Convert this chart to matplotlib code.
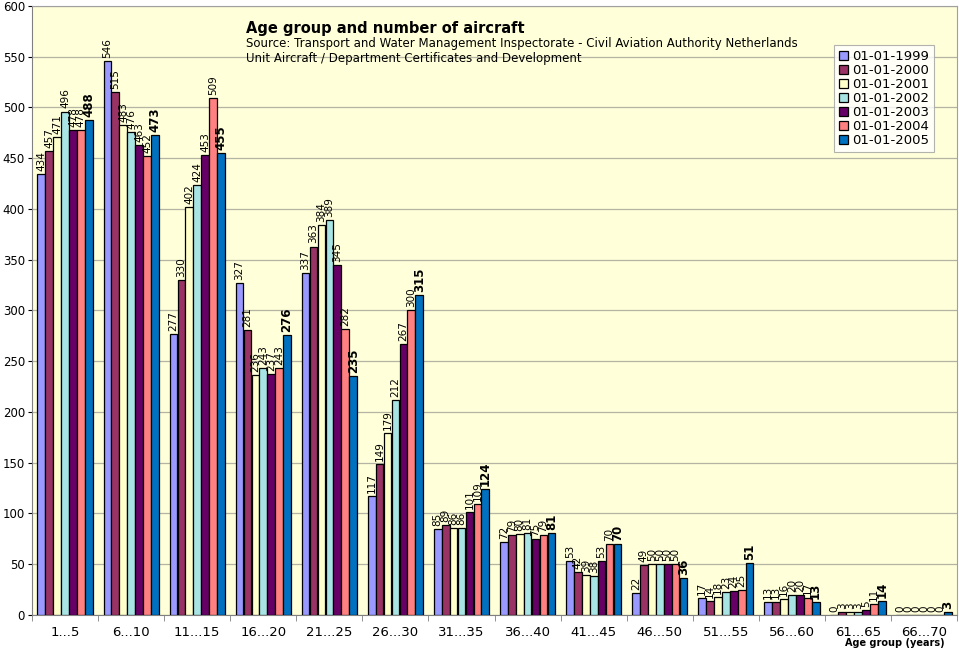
import matplotlib.pyplot as plt
import numpy as np

# leeftijdsgroepen
groups = ["1...5", "6...10", "11...15", "16...20", "21...25", "26...30", "31...35",
          "36...40", "41...45", "46...50", "51...55", "56...60", "61...65", "66...70"]
years = ["01-01-1999", "01-01-2000", "01-01-2001", "01-01-2002",
         "01-01-2003", "01-01-2004", "01-01-2005"]

v1999 = [434, 546, 277, 327, 337, 117, 85, 72, 53, 22, 17, 13, 0, 0]
v2000 = [457, 515, 330, 281, 363, 149, 89, 79, 42, 49, 14, 13, 3, 0]
v2001 = [471, 483, 402, 236, 384, 179, 86, 80, 39, 50, 18, 16, 3, 0]
v2002 = [496, 476, 424, 243, 389, 212, 86, 81, 38, 50, 23, 20, 3, 0]
v2003 = [478, 463, 453, 237, 345, 267, 101, 75, 53, 50, 24, 20, 5, 0]
v2004 = [478, 452, 509, 243, 282, 300, 109, 79, 70, 50, 25, 17, 11, 0]
v2005 = [488, 473, 455, 276, 235, 315, 124, 81, 70, 36, 51, 13, 14, 3]

series = [v1999, v2000, v2001, v2002, v2003, v2004, v2005]
colors = ["#9999FF", "#993366", "#FFFFCC", "#A8E4E4", "#660066", "#FF8080", "#0070C0"]

fig = plt.figure(figsize=(9.59, 6.49), dpi=100)
ax = fig.add_axes([0.0334, 0.0524, 0.9646, 0.9384])
ax.set_facecolor("#FFFFD9")

x = np.arange(len(groups))
w = 0.12
for i, (vals, c) in enumerate(zip(series, colors)):
    pos = x + (i - 3) * w
    ax.bar(pos, vals, width=w * 0.97, color=c, edgecolor="black", linewidth=0.9,
           label=years[i], zorder=3)
    last = i == len(series) - 1
    for p, v in zip(pos, vals):
        ax.text(p, v + 3, str(v), rotation=90, ha="center", va="bottom",
                fontsize=8.5 if last else 7.5,
                fontweight="bold" if last else "normal", zorder=4)

ax.set_xlim(-0.5, len(groups) - 0.5)
ax.set_ylim(0, 600)
ax.set_yticks(np.arange(0, 601, 50))
ax.yaxis.grid(True, color="#B4B4A4", linewidth=0.9, zorder=0)
ax.set_xticks(x)
ax.set_xticklabels(groups, fontsize=9.5)
ax.set_xticks(np.arange(-0.5, len(groups)), minor=True)
ax.tick_params(axis="x", which="major", length=0, pad=8)
ax.tick_params(axis="x", which="minor", length=4, color="#808080")
ax.tick_params(axis="y", labelsize=8.5, length=3, pad=2)
for s in ["top", "right"]:
    ax.spines[s].set_color("#A0A0A0")
for s in ["left", "bottom"]:
    ax.spines[s].set_color("#808080")

ax.text(0.231, 0.963, "Age group and number of aircraft", transform=ax.transAxes,
        fontsize=10.5, fontweight="bold", va="center")
ax.text(0.231, 0.938, "Source: Transport and Water Management Inspectorate - Civil Aviation Authority Netherlands",
        transform=ax.transAxes, fontsize=8.5, va="center")
ax.text(0.231, 0.913, "Unit Aircraft / Department Certificates and Development",
        transform=ax.transAxes, fontsize=8.5, va="center")

leg = ax.legend(loc="upper right", bbox_to_anchor=(0.982, 0.946), fontsize=9.5,
                frameon=True, fancybox=False, edgecolor="#A0A0A0",
                handlelength=0.7, handleheight=0.7, handletextpad=0.3,
                labelspacing=0.08, borderpad=0.35)
leg.get_frame().set_facecolor("white")
leg.get_frame().set_linewidth(0.8)

fig.text(0.985, 0.001, "Age group (years)", ha="right", va="bottom",
         fontsize=7, fontweight="bold")

fig.savefig("out.png", dpi=100)
